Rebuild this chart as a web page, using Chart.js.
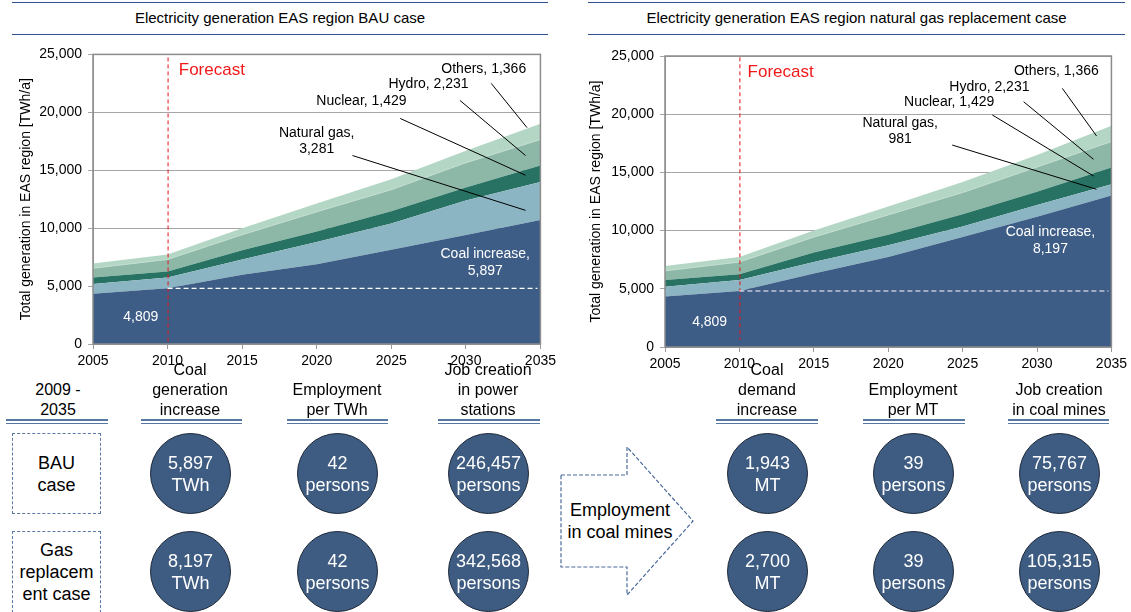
<!DOCTYPE html>
<html>
<head>
<meta charset="utf-8">
<script src="https://cdn.jsdelivr.net/npm/chart.js@4.4.1/dist/chart.umd.min.js"></script>
<style>
  html, body { margin: 0; padding: 0; background: #fff; }
  body { width: 1131px; height: 612px; position: relative; overflow: hidden;
         font-family: "Liberation Sans", Arial, sans-serif; color: #000; }
  canvas { position: absolute; }
  .title { position: absolute; top: 2px; height: 33px; box-sizing: border-box;
           border-top: 1.5px solid #2f528f; border-bottom: 1.5px solid #2f528f;
           font-size: 15px; line-height: 30px; text-align: center; }
  .head { position: absolute; width: 170px; font-size: 16px; line-height: 20px; text-align: center; }
  .rule { position: absolute; top: 419px; height: 5px; box-sizing: border-box;
          border-top: 2px solid #56779f; border-bottom: 1px solid #56779f; }
  .box { position: absolute; box-sizing: border-box; border: 1px dashed #5a7aa5;
         display: flex; align-items: center; justify-content: center; text-align: center;
         font-size: 18px; line-height: 22px; }
  .dot { position: absolute; width: 81px; height: 81px; box-sizing: border-box; border-radius: 50%;
         border: 1px solid #1b2636; background: #3e5c82; color: #fff;
         display: flex; align-items: center; justify-content: center; text-align: center;
         font-size: 18px; line-height: 22px; }
  .arrowText { position: absolute; width: 140px; text-align: center; font-size: 18px; line-height: 22px; }
</style>
</head>
<body>
<div class="title" style="left:12px;width:536px">Electricity generation EAS region BAU case</div>
<div class="title" style="left:588px;width:537px">Electricity generation EAS region natural gas replacement case</div>
<canvas id="bau" width="560" height="335" style="left:0;top:40px"></canvas>
<canvas id="gas" width="561" height="335" style="left:570px;top:40px"></canvas>
<svg style="position:absolute;left:555px;top:440px" width="145" height="162">
  <polygon points="6,35 72,35 72,7 138,81 72,155 72,127 6,127" fill="none"
           stroke="#4a6a9a" stroke-width="1.2" stroke-dasharray="4 2"/>
</svg>
<div class="arrowText" style="left:550px;top:499px">Employment<br>in coal mines</div>
<div id="table"></div>

<script>
// generation by source, TWh/a (stacked from coal upwards)
const years = [2005, 2010, 2015, 2020, 2025, 2030, 2035]
const coalBAU = [4330, 4809, 5970, 6880, 8140, 9410, 10706]
const gasBAU = [850, 940, 1330, 1920, 2260, 2980, 3281]
const coalGasCase = [4330, 4809, 6310, 7740, 9450, 11200, 13006]
const gasGasCase = [850, 940, 1000, 1000, 900, 1000, 981]
const nuclear = [570, 510, 800, 910, 1050, 1130, 1429]
const hydro = [790, 1040, 1330, 1700, 1870, 2130, 2231]
const others = [420, 430, 570, 710, 910, 1030, 1366]
const coalBase = 4809
const yMax = 25000

// table below the charts
const caseLabels = [['BAU', 'case'], ['Gas', 'replacem', 'ent case']]
const employmentPerTWh = [42, 42]
const jobsPowerStations = [246457, 342568]
const coalDemandIncrease = [1943, 2700]
const employmentPerMT = [39, 39]
const jobsCoalMines = [75767, 105315]

const fmt = v => v.toLocaleString('en-US')
const FONT = '"Liberation Sans", Arial, sans-serif'
Chart.defaults.font.family = FONT
Chart.defaults.font.size = 14
Chart.defaults.color = '#000'

const layerColors = ['#3e5d86', '#8bb5c3', '#277262', '#8db8a8', '#b4d6c5']
// hydro has a pale edge against "others"
const layerEdges = [0, 0, 0, 1, 0]

function notesPlugin(notes) {
    return {
        id: 'notes',
        afterDatasetsDraw(chart) {
            const { ctx, chartArea: a, scales: { x, y } } = chart
            const px = v => x.getPixelForValue(v)
            const py = v => y.getPixelForValue(v)
            ctx.save()
            ctx.strokeStyle = '#8c8c8c'
            ctx.lineWidth = 1.5
            ctx.strokeRect(a.left, a.top, a.width, a.height)

            // forecast marker
            ctx.setLineDash([4, 3])
            ctx.strokeStyle = '#e3151b'
            ctx.lineWidth = 1
            ctx.beginPath()
            ctx.moveTo(px(2010) + 0.5, py(notes.forecastTop))
            ctx.lineTo(px(2010) + 0.5, py(notes.forecastBottom))
            ctx.stroke()

            // 2010 coal level
            ctx.setLineDash([5, 3])
            ctx.strokeStyle = '#fff'
            ctx.lineWidth = 1.2
            ctx.beginPath()
            ctx.moveTo(px(2010), py(coalBase))
            ctx.lineTo(px(2034.8), py(coalBase))
            ctx.stroke()
            ctx.setLineDash([])

            ctx.strokeStyle = '#000'
            ctx.lineWidth = 1
            notes.labels.forEach(n => {
                if (n.from) {
                    ctx.beginPath()
                    ctx.moveTo(px(n.from[0]), py(n.from[1]))
                    ctx.lineTo(px(n.to[0]), py(n.to[1]))
                    ctx.stroke()
                }
                ctx.fillStyle = n.color || '#000'
                ctx.font = (n.size || 14) + 'px ' + FONT
                ctx.textAlign = n.align || 'center'
                ctx.textBaseline = 'middle'
                const lh = n.size ? n.size * 1.05 : 16.5
                const y0 = py(n.at[1]) - (n.text.length - 1) * lh / 2
                n.text.forEach((t, i) => ctx.fillText(t, px(n.at[0]), y0 + i * lh))
            })
            ctx.restore()
        }
    }
}

function makeChart(id, coal, gas, geom, notes) {
    const series = [coal, gas, nuclear, hydro, others]
    return new Chart(document.getElementById(id), {
        type: 'line',
        data: {
            datasets: series.map((vals, i) => ({
                data: years.map((yr, j) => ({ x: yr, y: vals[j] })),
                backgroundColor: layerColors[i],
                borderColor: '#c4ded1',
                borderWidth: layerEdges[i],
                pointRadius: 0,
                tension: 0,
                fill: i === 0 ? 'origin' : '-1'
            }))
        },
        options: {
            responsive: false,
            animation: false,
            devicePixelRatio: 1,
            layout: { padding: { top: geom.top, right: geom.right, left: 0, bottom: 0 } },
            plugins: { legend: { display: false }, tooltip: { enabled: false } },
            scales: {
                x: {
                    type: 'linear', min: 2005, max: 2035,
                    ticks: { stepSize: 5, callback: v => String(v), padding: 4, maxRotation: 0, autoSkip: false },
                    grid: { drawOnChartArea: false, drawTicks: true, tickLength: 5, color: '#999' },
                    border: { color: '#999' },
                    afterFit: s => { s.height = geom.xh }
                },
                y: {
                    stacked: true, min: 0, max: yMax,
                    ticks: { stepSize: 5000, callback: v => fmt(v), padding: 6 },
                    grid: { color: '#a6a6a6', tickLength: 5 },
                    border: { color: '#999' },
                    title: {
                        display: true, text: 'Total generation in EAS region [TWh/a]',
                        padding: { top: 17.6, bottom: 0 }
                    },
                    afterFit: s => { s.width = geom.yw }
                }
            }
        },
        plugins: [notesPlugin(notes)]
    })
}

const last = years.length - 1
makeChart('bau', coalBAU, gasBAU, { top: 10, right: 17, xh: 31, yw: 93 }, {
    forecastTop: 24740, forecastBottom: 0,
    labels: [
        { text: ['Others, ' + fmt(others[last])], at: [2031.2, 23720], from: [2031.7, 22500], to: [2034.1, 18680] },
        { text: ['Hydro, ' + fmt(hydro[last])], at: [2027.5, 22450], from: [2029.6, 21030], to: [2034.0, 16270] },
        { text: ['Nuclear, ' + fmt(nuclear[last])], at: [2023.0, 20950], from: [2025.6, 19470], to: [2034.0, 14570] },
        { text: ['Natural gas,', fmt(gasBAU[last])], at: [2020.0, 17515], from: [2022.4, 16270], to: [2034.0, 11540] },
        { text: ['Coal increase,', fmt(coalBAU[last] - coalBase)], at: [2031.3, 7045], color: '#fff' },
        { text: [fmt(coalBase)], at: [2008.2, 2320], color: '#fff' },
        { text: ['Forecast'], at: [2010.75, 23640], color: '#f01818', size: 17, align: 'left' }
    ]
})

makeChart('gas', coalGasCase, gasGasCase, { top: 16, right: 16, xh: 28, yw: 95 }, {
    forecastTop: 24890, forecastBottom: 600,
    labels: [
        { text: ['Others, ' + fmt(others[last])], at: [2031.3, 23740], from: [2031.7, 22220], to: [2034.0, 18130] },
        { text: ['Hydro, ' + fmt(hydro[last])], at: [2026.8, 22360], from: [2029.1, 21070], to: [2033.8, 16120] },
        { text: ['Nuclear, ' + fmt(nuclear[last])], at: [2024.1, 21070], from: [2027.0, 19930], to: [2033.8, 14690] },
        { text: ['Natural gas,', fmt(gasGasCase[last])], at: [2020.8, 18555], from: [2024.3, 17350], to: [2034.0, 13550] },
        { text: ['Coal increase,', fmt(coalGasCase[last] - coalBase)], at: [2030.9, 9150], color: '#fff' },
        { text: [fmt(coalBase)], at: [2008.0, 2170], color: '#fff' },
        { text: ['Forecast'], at: [2010.55, 23600], color: '#f01818', size: 17, align: 'left' }
    ]
})

// table of cases
const coalGenIncrease = [coalBAU[last] - coalBase, coalGasCase[last] - coalBase]
const rowCenters = [473, 571]
const columns = [
    { cx: 190, head: ['Coal', 'generation', 'increase'], rule: [141, 242], cells: coalGenIncrease.map(v => [fmt(v), 'TWh']) },
    { cx: 337, head: ['Employment', 'per TWh'], rule: [287, 388], cells: employmentPerTWh.map(v => [fmt(v), 'persons']) },
    { cx: 488, head: ['Job creation', 'in power', 'stations'], rule: [438, 540], cells: jobsPowerStations.map(v => [fmt(v), 'persons']) },
    { cx: 767, head: ['Coal', 'demand', 'increase'], rule: [716, 818], cells: coalDemandIncrease.map(v => [fmt(v), 'MT']) },
    { cx: 913, head: ['Employment', 'per MT'], rule: [863, 965], cells: employmentPerMT.map(v => [fmt(v), 'persons']) },
    { cx: 1059, head: ['Job creation', 'in coal mines'], rule: [1008, 1109], cells: jobsCoalMines.map(v => [fmt(v), 'persons']) }
]

let html = ''
const header = (cx, lines) =>
    `<div class="head" style="left:${cx - 85}px;top:${420 - lines.length * 20}px">${lines.join('<br>')}</div>`
html += header(58, ['2009 -', '2035'])
html += `<div class="rule" style="left:6px;width:102px"></div>`
caseLabels.forEach((lines, r) => {
    const h = r === 0 ? 81 : 82
    html += `<div class="box" style="left:12px;top:${rowCenters[r] - 40}px;width:89px;height:${h}px">${lines.join('<br>')}</div>`
})
columns.forEach(c => {
    html += header(c.cx, c.head)
    html += `<div class="rule" style="left:${c.rule[0]}px;width:${c.rule[1] - c.rule[0]}px"></div>`
    c.cells.forEach((cell, r) => {
        html += `<div class="dot" style="left:${c.cx - 40}px;top:${rowCenters[r] - 40}px">${cell.join('<br>')}</div>`
    })
})
document.getElementById('table').innerHTML = html
</script>
</body>
</html>
